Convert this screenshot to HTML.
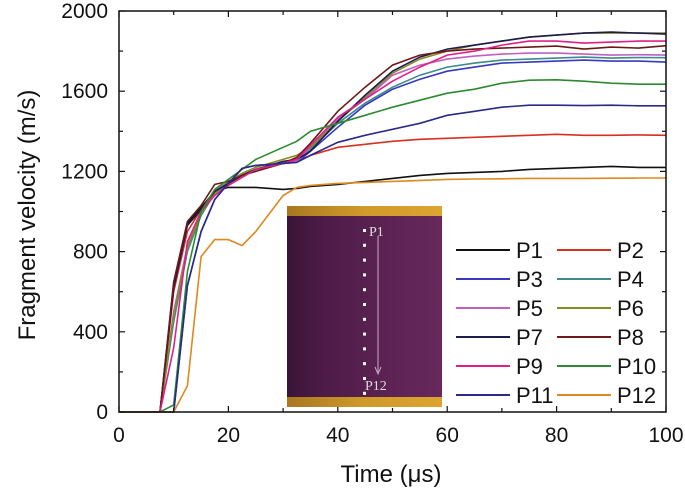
<!DOCTYPE html>
<html><head><meta charset="utf-8"><style>
html,body{margin:0;padding:0;background:#fff;}
svg{display:block;font-family:"Liberation Sans",sans-serif;}
</style></head><body>
<svg id="chart" width="685" height="491" viewBox="0 0 685 491">
<defs>
<linearGradient id="cyl" x1="0" x2="1" y1="0" y2="0">
<stop offset="0" stop-color="#3a1438"/><stop offset="0.25" stop-color="#4e1c48"/><stop offset="1" stop-color="#68285c"/>
</linearGradient>
<linearGradient id="gold" x1="0" x2="1">
<stop offset="0" stop-color="#a87820"/><stop offset="0.5" stop-color="#d09a2a"/><stop offset="1" stop-color="#dca430"/>
</linearGradient>
</defs>
<g id="series-layer"></g>
<g id="axes-layer"></g>
<g id="inset">
<rect x="287" y="206" width="155" height="201" fill="url(#cyl)"/>
<rect x="287" y="206" width="155" height="10" fill="url(#gold)"/>
<rect x="287" y="397" width="155" height="10" fill="url(#gold)"/>
<line x1="378" y1="236" x2="378" y2="372" stroke="#c8a8c8" stroke-width="1"/>
<path d="M375,367 L378,374 L381,367" fill="none" stroke="#c8a8c8" stroke-width="1"/>
<g id="dots"></g>
<text x="369" y="236" font-family="Liberation Serif,serif" font-size="14" fill="#ddd">P1</text>
<text x="365" y="390" font-family="Liberation Serif,serif" font-size="14" fill="#ddd">P12</text>
</g>
<g id="legend"></g>
<text x="391" y="482" text-anchor="middle" font-size="24" fill="#111">Time (μs)</text>
<text transform="translate(35,215) rotate(-90)" text-anchor="middle" font-size="24" fill="#111">Fragment velocity (m/s)</text>
</svg>
<script>
const times = [0,7.5,10,12.5,15,17.5,20,22.5,25,30,32.5,35,40,45,50,55,60,65,70,75,80,85,90,95,100];
const seriesNames = ["P1","P2","P3","P4","P5","P6","P7","P8","P9","P10","P11","P12"];
const P1 = [0,0,640,940,1020,1100,1120,1120,1120,1110,1115,1125,1135,1150,1165,1180,1190,1195,1200,1210,1215,1220,1225,1220,1220];
const P2 = [0,0,600,900,1010,1100,1150,1180,1210,1240,1250,1280,1320,1335,1350,1360,1365,1370,1375,1380,1385,1380,1380,1382,1380];
const P3 = [0,0,0,630,900,1060,1140,1215,1230,1240,1245,1300,1420,1530,1610,1660,1700,1720,1740,1745,1750,1755,1750,1750,1745];
const P4 = [0,0,450,800,980,1090,1140,1180,1210,1240,1250,1310,1440,1540,1620,1680,1720,1740,1755,1760,1765,1770,1765,1768,1767];
const P5 = [0,0,500,830,1000,1100,1150,1180,1210,1240,1250,1320,1460,1560,1680,1730,1760,1775,1785,1790,1790,1785,1780,1782,1780];
const P6 = [0,0,480,820,990,1090,1150,1190,1220,1260,1280,1320,1450,1570,1690,1760,1800,1830,1850,1870,1880,1890,1890,1890,1890];
const P7 = [0,0,620,930,1010,1100,1140,1180,1210,1250,1260,1300,1450,1580,1700,1770,1810,1830,1850,1870,1880,1890,1895,1890,1885];
const P8 = [0,0,650,950,1030,1135,1150,1180,1200,1240,1270,1340,1500,1620,1730,1780,1800,1810,1815,1820,1825,1810,1820,1815,1827];
const P9 = [0,0,320,850,1000,1080,1130,1170,1210,1240,1260,1330,1470,1560,1650,1720,1780,1800,1830,1850,1850,1840,1845,1850,1850];
const P10 = [0,0,35,700,1000,1110,1160,1210,1260,1320,1350,1400,1440,1480,1520,1555,1590,1610,1640,1655,1657,1650,1640,1635,1635];
const P11 = [0,0,0,630,900,1060,1140,1215,1230,1240,1245,1280,1345,1380,1410,1440,1480,1500,1520,1530,1530,1528,1530,1527,1527];
const P12 = [0,0,0,130,775,860,860,830,900,1080,1120,1130,1140,1145,1150,1155,1160,1162,1163,1165,1165,1165,1166,1167,1167];
const xTicks = [0,20,40,60,80,100];
const yTicks = [0,400,800,1200,1600,2000];

const allSeries = [P1,P2,P3,P4,P5,P6,P7,P8,P9,P10,P11,P12];
const colors = ["#111111","#d83020","#3838c0","#3c8c8c","#c060c0","#8a8a22","#1c1c50","#6a1a1a","#e02088","#2e8a30","#2a2a88","#e08820"];
const NS = "http://www.w3.org/2000/svg";
const X0=119, X1=666, Y0=412, Y1=11;
const xs = t => X0 + (t/100)*(X1-X0);
const ys = v => Y0 - (v/2000)*(Y0-Y1);
function mk(tag, attrs, parent){const e=document.createElementNS(NS,tag);for(const k in attrs)e.setAttribute(k,attrs[k]);parent.appendChild(e);return e;}

const sl = document.getElementById('series-layer');
allSeries.forEach((vals,i)=>{
  const d = vals.map((v,j)=>(j?'L':'M')+xs(times[j]).toFixed(1)+','+ys(v).toFixed(1)).join(' ');
  const p = mk('path',{d:d,fill:'none',stroke:colors[i],'stroke-width':1.6},sl);
  
  
});

const ax = document.getElementById('axes-layer');
const fr = mk('rect',{x:X0,y:Y1,width:X1-X0,height:Y0-Y1,fill:'none',stroke:'#111','stroke-width':1.5},ax);


for(let t=0;t<=100;t+=10){
  const L = t%20===0?6:4;
  const a = mk('line',{x1:xs(t),x2:xs(t),y1:Y0,y2:Y0-L,stroke:'#111','stroke-width':1.2},ax);
  
  
  const b = mk('line',{x1:xs(t),x2:xs(t),y1:Y1,y2:Y1+L,stroke:'#111','stroke-width':1.2},ax);
  
  
}
for(let v=0;v<=2000;v+=200){
  const L = v%400===0?6:4;
  const a = mk('line',{x1:X0,x2:X0+L,y1:ys(v),y2:ys(v),stroke:'#111','stroke-width':1.2},ax);
  
  
  const b = mk('line',{x1:X1,x2:X1-L,y1:ys(v),y2:ys(v),stroke:'#111','stroke-width':1.2},ax);
  
  
}
xTicks.forEach(t=>{
  const e = mk('text',{x:xs(t),y:442,'text-anchor':'middle','font-size':21,fill:'#111'},ax);
  e.textContent = String(t);
  
  
});
yTicks.forEach(v=>{
  const e = mk('text',{x:108,y:ys(v)+7,'text-anchor':'end','font-size':21,fill:'#111'},ax);
  e.textContent = String(v);
  
  
});

const dg = document.getElementById('dots');
for(let i=0;i<12;i++){
  const c = mk('rect',{x:363,y:229+i*14.8,width:3,height:3,fill:'#fff'},dg);
  
  
}

const lg = document.getElementById('legend');
seriesNames.forEach((n,i)=>{
  const col = i%2, row = Math.floor(i/2);
  const lx = col? 557:456, ty = 250+row*29;
  const g = mk('g',{},lg);
  
  
  mk('line',{x1:lx,x2:lx+54,y1:ty,y2:ty,stroke:colors[i],'stroke-width':2},g);
  const t = mk('text',{x:lx+60,y:ty+8,'font-size':22,fill:'#111'},g);
  t.textContent = n;
});
</script>
</body></html>
